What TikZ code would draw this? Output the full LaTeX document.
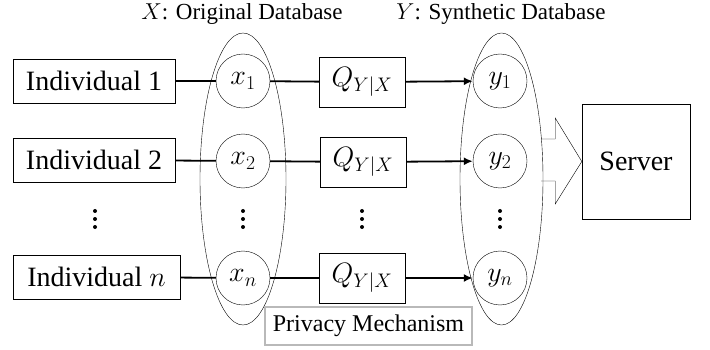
\documentclass[tikz,border=0pt]{standalone}
\usepackage{fix-cm}
\usepackage{amsmath}
\usepackage{fontspec}
\setmainfont{Liberation Serif}
\usepackage{tikz}
\usetikzlibrary{arrows.meta}
\usetikzlibrary{calc}
\usetikzlibrary{shapes.geometric}
\newcommand{\dotcolumn}[2]{
	\fill (#1, #2-8) circle (2)
	(#1, #2) circle (2)
	(#1, #2+8) circle (2);
	}
\begin{document}
\begin{tikzpicture}[x=1pt, y=-1pt,
	every node/.style={font=\fontsize{28}{32}\selectfont},
	box/.style={draw, minimum height=44, inner sep=0pt},
	qbox/.style={draw, minimum width=86, minimum height=50, inner sep=0pt},
	var/.style={draw, circle, minimum size=54, inner sep=0pt},
	dbset/.style={draw, ellipse, minimum height=292, inner sep=0pt},
	link/.style={line width=1.8pt}]

	\useasboundingbox (0,0) rectangle (710,350);

	% the two databases
	\node[dbset, minimum width=86] (Xset) at (243,179) {};
	\node[dbset, minimum width=83] (Yset) at (501.5,179) {};

	\node (xtitle) at (242,14) {\fontsize{23}{26}\selectfont $X$: Original Database};
	\node (ytitle) at (501,14) {\fontsize{23}{26}\selectfont $Y$: Synthetic Database};

	\node[box, minimum width=162] (ind1) at (94,81) {Individual 1};
	\node[box, minimum width=162] (ind2) at (94,160) {Individual 2};
	\node[box, minimum width=167] (indn) at (96.5,277) {Individual $n$};

	\node[var] (x1) at (243,81) {$x_1$};
	\node[var] (x2) at (243,161) {$x_2$};
	\node[var] (xn) at (243,278) {$x_n$};

	\node[qbox] (q1) at (362,82) {$Q_{Y|X}$};
	\node[qbox] (q2) at (363,162) {$Q_{Y|X}$};
	\node[qbox] (qn) at (362,278) {$Q_{Y|X}$};

	\node[var] (y1) at (500,81) {$y_1$};
	\node[var] (y2) at (500,161) {$y_2$};
	\node[var] (yn) at (500,278) {$y_n$};

	\dotcolumn{95}{219}
	\dotcolumn{243}{219}
	\dotcolumn{362}{219}
	\dotcolumn{500}{219}

	\draw[link] (ind1) -- (x1);
	\draw[link] (ind2) -- (x2);
	\draw[link] (indn) -- (xn);
	\draw[link] (x1) -- (q1);
	\draw[link] (x2) -- (q2);
	\draw[link] (xn) -- (qn);
	\draw[link, -{Latex[length=9, width=8]}] (q1) -- (y1);
	\draw[link, -{Latex[length=9, width=8]}] (q2) -- (y2);
	\draw[link, -{Latex[length=9, width=8]}] (qn) -- (yn);

	\node[draw, minimum width=108, minimum height=115] (server) at (636,161.5) {Server};

	% hollow arrow to the server
	\draw ($(Yset.east)+(-2,-40)$) -- ++(14,0) -- ++(0,-21) -- (server.west)
	-- ($(Yset.east)+(12,25)$) -- ++(0,-23) -- ++(-14,0);

	\node[draw=gray!55, line width=1.2pt, minimum width=207, minimum height=38,
	font=\fontsize{24}{28}\selectfont] (mech) at (368.5,326) {Privacy Mechanism};

\end{tikzpicture}
\end{document}
